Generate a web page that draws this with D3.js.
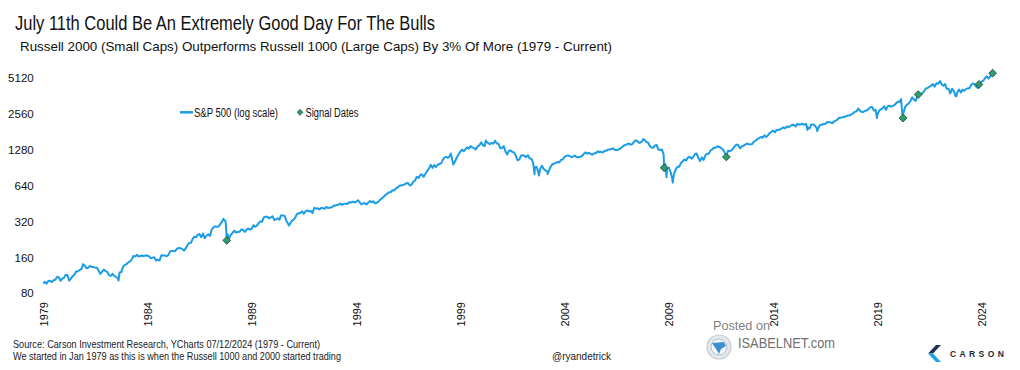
<!DOCTYPE html>
<html>
<head>
<meta charset="utf-8">
<script src="https://cdn.jsdelivr.net/npm/d3@7"></script>
<style>
	html, body { margin: 0; padding: 0; background: #fff; }
	svg { display: block; font-family: "Liberation Sans", Arial, sans-serif; }
</style>
</head>
<body>
<svg width="1020" height="370"></svg>
<script>
// S&P 500 month-end closes (Jan 1979 onwards)
var spx1979to1989 = [
	99.93, 96.28, 101.59, 101.76, 99.08, 102.91, 103.81, 109.32, 109.32, 101.82, 106.16, 107.94,
	114.16, 113.66, 102.09, 106.29, 111.24, 114.24, 121.67, 122.38, 125.46, 127.47, 140.52, 135.76,
	129.55, 131.27, 136.00, 132.81, 132.59, 131.21, 130.92, 122.79, 116.18, 121.89, 126.35, 122.55,
	120.40, 113.11, 111.96, 116.44, 111.88, 109.61, 107.09, 119.51, 120.42, 133.71, 138.54, 140.64,
	145.30, 148.06, 152.96, 164.42, 162.39, 168.11, 162.56, 164.40, 166.07, 163.55, 166.40, 164.93,
	163.41, 157.06, 159.18, 160.05, 150.55, 153.18, 150.66, 166.68, 166.10, 166.09, 163.58, 167.24,
	179.63, 181.18, 180.66, 179.83, 189.55, 191.85, 190.92, 188.63, 182.08, 189.82, 202.17, 211.28,
	211.78, 226.92, 238.90, 235.52, 247.35, 250.84, 236.12, 252.93, 231.32, 243.98, 249.22, 242.17,
	274.08, 284.20, 291.70, 288.36, 290.10, 304.00, 318.66, 329.80, 321.83, 251.79, 230.30, 247.08,
	257.07, 267.82, 258.89, 261.33, 262.16, 273.50, 272.02, 261.52, 271.91, 278.97, 273.70, 277.72,
	297.47, 288.86, 294.87, 309.64, 320.52, 317.98, 346.08, 351.45, 349.15, 340.36, 345.99, 353.40
];
var spx1990s = [
	329.08, 331.89, 339.94, 330.80, 361.23, 358.02, 356.15, 322.56, 306.05, 304.00, 322.22, 330.22,
	343.93, 367.07, 375.22, 375.34, 389.83, 371.16, 387.81, 395.43, 387.86, 392.46, 375.22, 417.09,
	408.79, 412.70, 403.69, 414.95, 415.35, 408.14, 424.21, 414.03, 417.80, 418.68, 431.35, 435.71,
	438.78, 443.38, 451.67, 440.19, 450.19, 450.53, 448.13, 463.56, 458.93, 467.83, 461.79, 466.45,
	481.61, 467.14, 445.77, 450.91, 456.50, 444.27, 458.26, 475.49, 462.69, 472.35, 453.69, 459.27,
	470.42, 487.39, 500.71, 514.71, 533.40, 544.75, 562.06, 561.88, 584.41, 581.50, 605.37, 615.93,
	636.02, 640.43, 645.50, 654.17, 669.12, 670.63, 639.95, 651.99, 687.33, 705.27, 757.02, 740.74,
	786.16, 790.82, 757.12, 801.34, 848.28, 885.14, 954.29, 899.47, 947.28, 914.62, 955.40, 970.43,
	980.28, 1049.34, 1101.75, 1111.75, 1090.82, 1133.84, 1120.67, 957.28, 1017.01, 1098.67, 1163.63, 1229.23,
	1279.64, 1238.33, 1286.37, 1335.18, 1301.84, 1372.71, 1328.72, 1320.41, 1282.71, 1362.93, 1388.91, 1469.25
];
var spx2000s = [
	1394.46, 1366.42, 1498.58, 1452.43, 1420.60, 1454.60, 1430.83, 1517.68, 1436.51, 1429.40, 1315.23, 1320.28,
	1366.01, 1239.94, 1160.33, 1249.46, 1255.82, 1224.38, 1211.23, 1133.58, 1040.94, 1059.78, 1139.45, 1148.08,
	1130.20, 1106.73, 1147.39, 1076.92, 1067.14, 989.82, 911.62, 916.07, 815.28, 885.76, 936.31, 879.82,
	855.70, 841.15, 848.18, 916.92, 963.59, 974.50, 990.31, 1008.01, 995.97, 1050.71, 1058.20, 1111.92,
	1131.13, 1144.94, 1126.21, 1107.30, 1120.68, 1140.84, 1101.72, 1104.24, 1114.58, 1130.20, 1173.82, 1211.92,
	1181.27, 1203.60, 1180.59, 1156.85, 1191.50, 1191.33, 1234.18, 1220.33, 1228.81, 1207.01, 1249.48, 1248.29,
	1280.08, 1280.66, 1294.83, 1310.61, 1270.09, 1270.20, 1276.66, 1303.82, 1335.85, 1377.94, 1400.63, 1418.30,
	1438.24, 1406.82, 1420.86, 1482.37, 1530.62, 1503.35, 1455.27, 1473.99, 1526.75, 1549.38, 1481.14, 1468.36,
	1378.55, 1330.63, 1322.70, 1385.59, 1400.38, 1280.00, 1267.38, 1282.83, 1166.36, 968.75, 896.24, 903.25,
	825.88, 735.09, 797.87, 872.81, 919.14, 919.32, 987.48, 1020.62, 1057.08, 1036.19, 1095.63, 1115.10
];
var spx2010s = [
	1073.87, 1104.49, 1169.43, 1186.69, 1089.41, 1030.71, 1101.60, 1049.33, 1141.20, 1183.26, 1180.55, 1257.64,
	1286.12, 1327.22, 1325.83, 1363.61, 1345.20, 1320.64, 1292.28, 1218.89, 1131.42, 1253.30, 1246.96, 1257.60,
	1312.41, 1365.68, 1408.47, 1397.91, 1310.33, 1362.16, 1379.32, 1406.58, 1440.67, 1412.16, 1416.18, 1426.19,
	1498.11, 1514.68, 1569.19, 1597.57, 1630.74, 1606.28, 1685.73, 1632.97, 1681.55, 1756.54, 1805.81, 1848.36,
	1782.59, 1859.45, 1872.34, 1883.95, 1923.57, 1960.23, 1930.67, 2003.37, 1972.29, 2018.05, 2067.56, 2058.90,
	1994.99, 2104.50, 2067.89, 2085.51, 2107.39, 2063.11, 2103.84, 1972.18, 1920.03, 2079.36, 2080.41, 2043.94,
	1940.24, 1932.23, 2059.74, 2065.30, 2096.95, 2098.86, 2173.60, 2170.95, 2168.27, 2126.15, 2198.81, 2238.83,
	2278.87, 2363.64, 2362.72, 2384.20, 2411.80, 2423.41, 2470.30, 2471.65, 2519.36, 2575.26, 2647.58, 2673.61,
	2823.81, 2713.83, 2640.87, 2648.05, 2705.27, 2718.37, 2816.29, 2901.52, 2913.98, 2711.74, 2760.17, 2506.85,
	2704.10, 2784.49, 2834.40, 2945.83, 2752.06, 2941.76, 2980.38, 2926.46, 2976.74, 3037.56, 3140.98, 3230.78
];
var spx2020s = [
	3225.52, 2954.22, 2584.59, 2912.43, 3044.31, 3100.29, 3271.12, 3500.31, 3363.00, 3269.96, 3621.63, 3756.07,
	3714.24, 3811.15, 3972.89, 4181.17, 4204.11, 4297.50, 4395.26, 4522.68, 4307.54, 4605.38, 4567.00, 4766.18,
	4515.55, 4373.94, 4530.41, 4131.93, 4132.15, 3785.38, 4130.29, 3955.00, 3585.62, 3871.98, 4080.11, 3839.50,
	4076.60, 3970.15, 4109.31, 4169.48, 4179.83, 4450.38, 4588.96, 4507.66, 4288.05, 4193.80, 4567.80, 4769.83,
	4845.65, 5096.27, 5254.35, 5035.69, 5277.51, 5460.48
];

// intra-month highs and lows visible on the chart
var turnDates = ["1979-01-02", "1982-08-12", "1987-08-25", "1987-10-19", "1990-10-11", "1998-07-17",
	"2000-03-24", "2002-07-23", "2002-10-09", "2003-03-11", "2007-10-09", "2008-10-10", "2008-11-20",
	"2009-03-09", "2010-07-02", "2011-10-03", "2015-08-25", "2016-02-11", "2018-12-24", "2020-02-19",
	"2020-03-23", "2022-01-03", "2022-10-12", "2024-07-11"];
var turnValues = [96.7, 102.4, 336.8, 236, 295.5, 1186.8,
	1527.5, 797.7, 776.8, 800.7, 1565.2, 899.2, 752.4,
	676.5, 1022.6, 1099.2, 1867.6, 1829.1, 2351.1, 3386.2,
	2237.4, 4796.6, 3577.0, 5584.5];

// Russell 2000 beats Russell 1000 by 3%+
var signalDates = ["1987-10-20", "2008-10-10", "2011-10-04", "2020-03-24", "2020-12-15", "2023-11-14", "2024-07-11"];
var signalValues = [222, 900, 1110, 2350, 3700, 4496, 5584];

var yTicks = [80, 160, 320, 640, 1280, 2560, 5120];
var xTickYears = [1979, 1984, 1989, 1994, 1999, 2004, 2009, 2014, 2019, 2024];

var lineColor = "#1a9de6";
var signalFill = "#2f9c70";

var parseDate = d3.timeParse("%Y-%m-%d");
var svg = d3.select("svg");

// build the series: month-end points plus the turning points
var monthly = [].concat(spx1979to1989, spx1990s, spx2000s, spx2010s, spx2020s);
var series = monthly.map(function(v, i) {
	return { date: new Date(1979, i + 1, 0), value: v };
});
turnDates.forEach(function(d, i) {
	series.push({ date: parseDate(d), value: turnValues[i] });
});
series.sort(function(a, b) { return a.date - b.date; });

var signals = signalDates.map(function(d, i) {
	return { date: parseDate(d), value: signalValues[i] };
});

var x = d3.scaleTime().domain([new Date(1979, 0, 1), new Date(2024, 0, 1)]).range([43.2, 981.7]);
var y = d3.scaleLog().base(2).domain([80, 5120]).range([293.3, 77.7]);

function addText(g, str, px, py, size, len, fill) {
	var t = g.append("text")
		.attr("x", px).attr("y", py)
		.attr("font-size", size)
		.attr("fill", fill || "#111")
		.text(str);
	if (len) t.attr("textLength", len).attr("lengthAdjust", "spacingAndGlyphs");
	return t;
}

// titles
addText(svg, "July 11th Could Be An Extremely Good Day For The Bulls", 15, 29.5, 20, 420, "#111");
addText(svg, "Russell 2000 (Small Caps) Outperforms Russell 1000 (Large Caps) By 3% Of More (1979 - Current)", 20, 51, 13.5, 592, "#111");

// y axis
var yAxis = svg.append("g")
	.attr("transform", "translate(43.2,0)")
	.call(d3.axisLeft(y).tickValues(yTicks).tickFormat(d3.format("d")).tickSize(0).tickPadding(9.5));
yAxis.select(".domain").remove();
yAxis.selectAll("text")
	.attr("font-family", "Liberation Sans, Arial, sans-serif")
	.attr("font-size", 11.5)
	.attr("fill", "#111");

// x axis, rotated labels
var xAxis = svg.append("g")
	.call(d3.axisBottom(x)
		.tickValues(xTickYears.map(function(yr) { return new Date(yr, 0, 1); }))
		.tickFormat(d3.timeFormat("%Y"))
		.tickSize(0));
xAxis.select(".domain").remove();
xAxis.selectAll("text")
	.attr("transform", "rotate(-90)")
	.attr("x", -302)
	.attr("y", 0)
	.attr("dy", "0.36em")
	.attr("text-anchor", "end")
	.attr("font-family", "Liberation Sans, Arial, sans-serif")
	.attr("font-size", 11)
	.attr("fill", "#111");

// line
var line = d3.line()
	.x(function(d) { return x(d.date); })
	.y(function(d) { return y(d.value); });

svg.append("path")
	.datum(series)
	.attr("fill", "none")
	.attr("stroke", lineColor)
	.attr("stroke-width", 2)
	.attr("stroke-linejoin", "round")
	.attr("d", line);

// signal diamonds
var diamond = d3.symbol().type(d3.symbolSquare).size(30);
svg.append("g").selectAll("path")
	.data(signals).enter().append("path")
	.attr("d", diamond)
	.attr("transform", function(d) { return "translate(" + x(d.date) + "," + y(d.value) + ") rotate(45)"; })
	.attr("fill", signalFill)
	.attr("stroke", "#1d4a38")
	.attr("stroke-width", 0.8);

// legend
var legend = svg.append("g");
legend.append("line")
	.attr("x1", 180).attr("x2", 193).attr("y1", 112.3).attr("y2", 112.3)
	.attr("stroke", lineColor).attr("stroke-width", 2.5);
addText(legend, "S&P 500 (log scale)", 194, 116.5, 12, 84);
legend.append("path")
	.attr("d", d3.symbol().type(d3.symbolSquare).size(18))
	.attr("transform", "translate(300,112.3) rotate(45)")
	.attr("fill", signalFill).attr("stroke", "#1d4a38").attr("stroke-width", 0.6);
addText(legend, "Signal Dates", 305.5, 116.5, 12, 53);

// footer
var foot = svg.append("g");
addText(foot, "Source: Carson Investment Research, YCharts 07/12/2024 (1979 - Current)", 13, 347.5, 10.5, 307, "#1a1a1a");
addText(foot, "We started in Jan 1979 as this is when the Russell 1000 and 2000 started trading", 13, 360, 10.5, 328, "#1a1a1a");
addText(foot, "@ryandetrick", 552, 360, 10.5, 59, "#1a1a1a");

// isabelnet watermark
addText(foot, "Posted on", 713, 330, 13, 57, "#808080");
var globe = foot.append("g").attr("transform", "translate(719,347)");
globe.append("circle").attr("r", 12).attr("fill", "#e3e8ec").attr("stroke", "#c4ccd2").attr("stroke-width", 1.2);
globe.append("circle").attr("r", 8).attr("fill", "#f4f6f8").attr("stroke", "#b5bfc7").attr("stroke-width", 1);
globe.append("path").attr("d", "M-7,-4 L5,-5 L7,-1 L2,2 L0,7 L-3,2 Z").attr("fill", "#3c8fd0");
addText(foot, "ISABELNET.com", 738, 348, 14, 97, "#707070");

// carson logo
var logo = foot.append("g");
logo.append("polygon").attr("points", "936,345 941,345 933,353.5 928,353.5").attr("fill", "#1d3557");
logo.append("polygon").attr("points", "928,353.5 933,353.5 941,362 936,362").attr("fill", "#1aa3e8");
addText(logo, "CARSON", 950, 356.5, 8.5, null, "#1d2a3a")
	.attr("font-weight", 600)
	.attr("letter-spacing", 3.4);
</script>
</body>
</html>
